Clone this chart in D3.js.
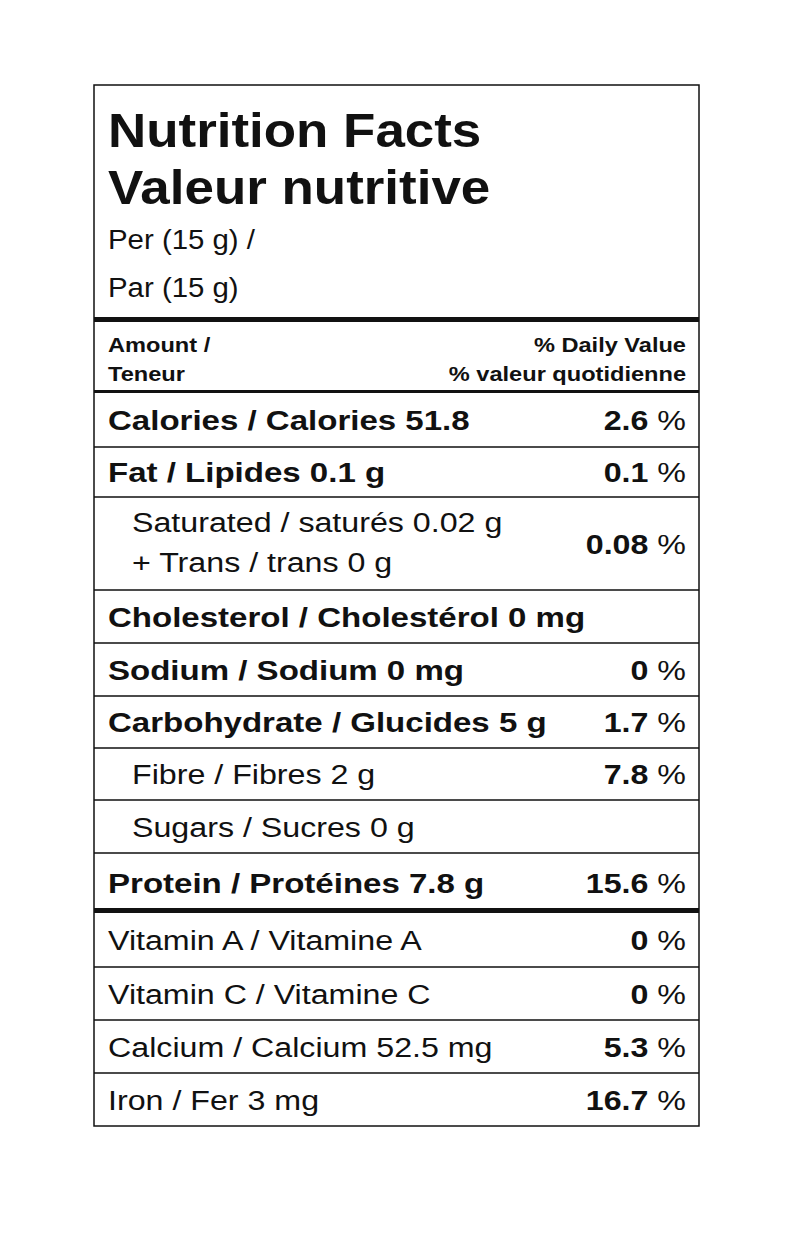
<!DOCTYPE html>
<html><head><meta charset="utf-8">
<script src="https://cdn.jsdelivr.net/npm/d3@7"></script>
<style>body{margin:0;background:#fff}text{font-family:"Liberation Sans",Arial,sans-serif;fill:#111}</style>
</head><body><svg id="c" width="800" height="1251"></svg>
<script>
const labels=["Calories / Calories 51.8","Fat / Lipides 0.1 g","Saturated / saturés 0.02 g|+ Trans / trans 0 g","Cholesterol / Cholestérol 0 mg","Sodium / Sodium 0 mg","Carbohydrate / Glucides 5 g","Fibre / Fibres 2 g","Sugars / Sucres 0 g","Protein / Protéines 7.8 g","Vitamin A / Vitamine A","Vitamin C / Vitamine C","Calcium / Calcium 52.5 mg","Iron / Fer 3 mg"];
const dv=["2.6","0.1","0.08",null,"0","1.7","7.8",null,"15.6","0","0","5.3","16.7"];
const boldLabel=[1,1,0,1,1,1,0,0,1,0,0,0,0];
const indent=[0,0,1,0,0,0,1,1,0,0,0,0,0];
const rowTops=[393,447,497,590,643,696,748,800,853,912,967,1020,1073,1126];

const svg=d3.select("#c");
const L=94,R=699;
svg.append("rect").attr("x",L).attr("y",85).attr("width",R-L).attr("height",1126-85).attr("fill","none").attr("stroke","#111").attr("stroke-width",1.5);
const t=(x,y,s,size,w,anchor,sx)=>svg.append("text").attr("transform",`translate(${x},${y}) scale(${sx||(w==="bold"?1.18:1.15)},1)`).attr("font-size",size).attr("font-weight",w||"normal").attr("text-anchor",anchor||"start").text(s);
t(108,147,"Nutrition Facts",49,"bold",null,1.08);
t(108,204,"Valeur nutritive",49,"bold",null,1.08);
t(108,249,"Per (15 g) /",28,null,null,1.05);
t(108,297,"Par (15 g)",28,null,null,1.05);
svg.append("rect").attr("x",L).attr("y",317).attr("width",R-L).attr("height",5).attr("fill","#111");
t(108,352,"Amount /",20,"bold");
t(108,381,"Teneur",20,"bold");
t(686,352,"% Daily Value",20,"bold","end");
t(686,381,"% valeur  quotidienne",20,"bold","end");
svg.append("rect").attr("x",L).attr("y",390).attr("width",R-L).attr("height",3).attr("fill","#111");

const y=d3.scaleOrdinal().domain(d3.range(13)).range(rowTops.slice(0,13));
labels.forEach((lab,i)=>{
  const top=y(i),bot=rowTops[i+1],mid=(top+bot)/2;
  const lines=lab.split("|");
  const x=indent[i]?132:108;
  if(lines.length===1) t(x,mid+10,lines[0],28,boldLabel[i]?"bold":"normal");
  else {t(x,mid-12,lines[0],28);t(x,mid+28,lines[1],28);}
  if(dv[i]!==null){
    const tx=svg.append("text").attr("transform",`translate(686,${mid+10}) scale(1.15,1)`).attr("font-size",28).attr("text-anchor","end");
    tx.append("tspan").attr("font-weight","bold").text(dv[i]+" ");
    tx.append("tspan").text("%");
  }
  if(i<12){
    const h=i===8?5:1.5;
    svg.append("rect").attr("x",L).attr("y",bot-(i===8?4:0.75)).attr("width",R-L).attr("height",h).attr("fill","#111");
  }
});
</script></body></html>
